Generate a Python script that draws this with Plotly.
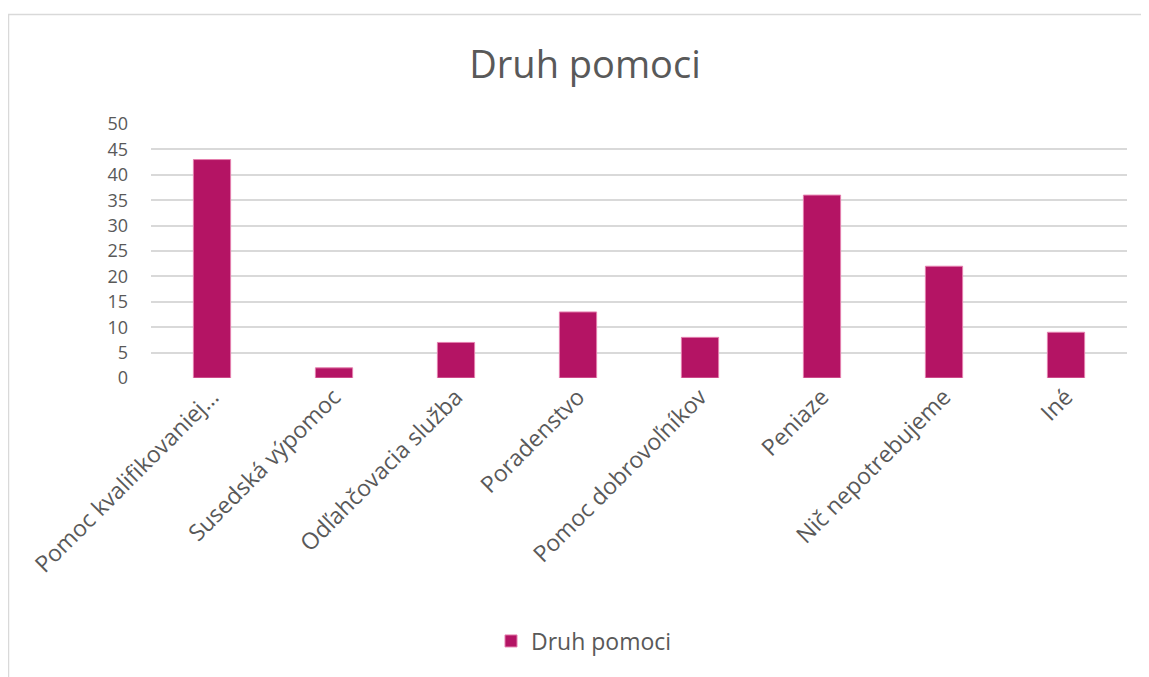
import plotly.graph_objects as go

categories = [
    "Pomoc kvalifikovaniej…",
    "Susedská výpomoc",
    "Odľahčovacia služba",
    "Poradenstvo",
    "Pomoc dobrovoľníkov",
    "Peniaze",
    "Nič nepotrebujeme",
    "Iné",
]
values = [43, 2, 7, 13, 8, 36, 22, 9]
series_name = "Druh pomoci"
y_ticks = [0, 5, 10, 15, 20, 25, 30, 35, 40, 45, 50]

FONT = "Open Sans"
GRAY = "#595959"
BAR = "#B41464"

# page has an 8px body margin: figure coords = reference coords - 8
OFF = 8
W, H = 1149 - OFF, 677 - OFF
L, T = 151 - OFF, 124 - OFF
R = (1149 - 1127)
B = 677 - 378
pw = W - L - R
ph = H - T - B

fig = go.Figure()
fig.add_trace(go.Bar(
    x=categories, y=values, name=series_name,
    marker=dict(color=BAR, line=dict(color="#E47FAE", width=1)),
    showlegend=True,
))

fig.update_layout(
    width=W, height=H,
    margin=dict(l=L, r=R, t=T, b=B),
    paper_bgcolor="white", plot_bgcolor="white",
    font=dict(family=FONT, color=GRAY),
    bargap=0.695,
    title=dict(text="Druh pomoci", x=(585 - OFF) / W, xref="container", xanchor="center",
               y=1 - (65 - OFF) / H, yref="container", yanchor="middle",
               font=dict(size=38, color=GRAY, family=FONT)),
    xaxis=dict(tickangle=-45, tickfont=dict(size=23, color=GRAY), showgrid=False,
               showline=False, ticks="", zeroline=False),
    yaxis=dict(range=[0, 50], tickvals=y_ticks, tickfont=dict(size=18, color=GRAY),
               showgrid=True, gridcolor="#D9D9D9", gridwidth=1.5, zeroline=False,
               showline=False, ticks="", ticklabelstandoff=22),
    legend=dict(orientation="h", x=(584 - 151) / pw, xanchor="center",
                y=-(641 - 378) / ph, yanchor="middle",
                font=dict(size=23, color=GRAY), itemwidth=30),
    shapes=[dict(type="rect", xref="paper", yref="paper",
                 x0=(8.5 - 151) / pw, x1=1.2, y0=-3, y1=(378 - 14.5) / ph,
                 line=dict(color="#D9D9D9", width=1.5), layer="below")],
)

fig.write_html("out.html")
